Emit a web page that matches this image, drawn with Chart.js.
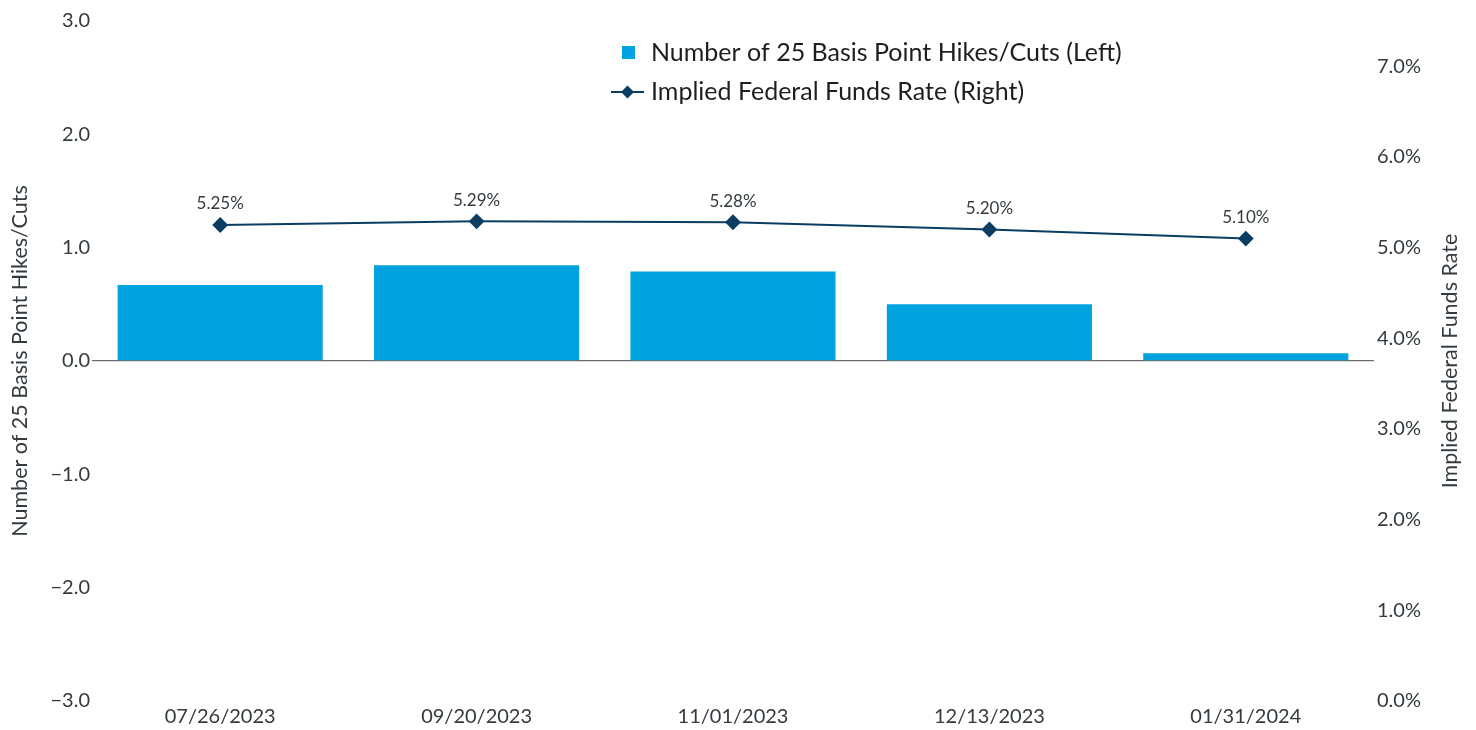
<!DOCTYPE html>
<html><head><meta charset="utf-8">
<script src="https://cdn.jsdelivr.net/npm/chart.js@4.4.1/dist/chart.umd.min.js"></script>
<style>html,body{margin:0;padding:0;background:#fff}#wrap{width:1476px;height:730px;position:relative}</style>
</head><body><div id="wrap"><canvas id="c" width="1476" height="730"></canvas></div>
<script>
const categories = ['07/26/2023','09/20/2023','11/01/2023','12/13/2023','01/31/2024'];
const hikesCuts = [0.67, 0.845, 0.79, 0.50, 0.068];
const fedFundsRate = [5.25, 5.29, 5.28, 5.20, 5.10];
const leftTicks = [-3, -2, -1, 0, 1, 2, 3];
const rightTicks = [0, 1, 2, 3, 4, 5, 6, 7];
const barLabel = 'Number of 25 Basis Point Hikes/Cuts (Left)';
const lineLabel = 'Implied Federal Funds Rate (Right)';
const leftTitle = 'Number of 25 Basis Point Hikes/Cuts';
const rightTitle = 'Implied Federal Funds Rate';

const FONT = 'Lato, "Noto Sans", sans-serif';
const BAR_COLOR = '#00A2DF';
const LINE_COLOR = '#0B3D63';
const TEXT = '#333a40';

const labelPlugin = {
  id: 'pointLabels',
  afterDatasetsDraw(chart) {
    const ctx = chart.ctx;
    const meta = chart.getDatasetMeta(0);
    ctx.save();
    ctx.font = '17px ' + FONT;
    ctx.fillStyle = TEXT;
    ctx.textAlign = 'center';
    ctx.textBaseline = 'middle';
    meta.data.forEach((pt, i) => {
      ctx.fillText(fedFundsRate[i].toFixed(2) + '%', pt.x, pt.y - 21);
    });
    ctx.restore();
  }
};

const rightTitlePlugin = {
  id: 'rightTitle',
  afterDraw(chart) {
    const ctx = chart.ctx;
    const s = chart.scales.yRight;
    ctx.save();
    ctx.translate(1450, (s.top + s.bottom) / 2);
    ctx.rotate(-Math.PI / 2);
    ctx.font = '21.5px ' + FONT;
    ctx.fillStyle = TEXT;
    ctx.textAlign = 'center';
    ctx.textBaseline = 'middle';
    ctx.fillText(rightTitle, 0, 0);
    ctx.restore();
  }
};

const legendPlugin = {
  id: 'customLegend',
  afterDraw(chart) {
    const ctx = chart.ctx;
    ctx.save();
    ctx.font = '25px ' + FONT;
    ctx.textBaseline = 'middle';
    ctx.textAlign = 'left';
    ctx.fillStyle = BAR_COLOR;
    ctx.fillRect(622, 46, 13, 13);
    ctx.fillStyle = '#1e1e1e';
    ctx.fillText(barLabel, 651, 53);
    ctx.strokeStyle = LINE_COLOR;
    ctx.lineWidth = 2;
    ctx.beginPath(); ctx.moveTo(611, 92); ctx.lineTo(644, 92); ctx.stroke();
    ctx.fillStyle = LINE_COLOR;
    ctx.beginPath();
    ctx.moveTo(627.5, 85.5); ctx.lineTo(634, 92); ctx.lineTo(627.5, 98.5); ctx.lineTo(621, 92); ctx.closePath();
    ctx.fill();
    ctx.fillStyle = '#1e1e1e';
    ctx.fillText(lineLabel, 651, 92);
    ctx.restore();
  }
};

new Chart(document.getElementById('c'), {
  data: {
    labels: categories,
    datasets: [
      {
        type: 'line', label: lineLabel, data: fedFundsRate, yAxisID: 'yRight',
        borderColor: LINE_COLOR, backgroundColor: LINE_COLOR, borderWidth: 2,
        pointStyle: 'rectRot', pointRadius: 6.5, pointHoverRadius: 6.5, tension: 0
      },
      {
        type: 'bar', label: barLabel, data: hikesCuts, yAxisID: 'yLeft',
        backgroundColor: BAR_COLOR, borderWidth: 0,
        barPercentage: 0.8, categoryPercentage: 1.0
      }
    ]
  },
  options: {
    responsive: false,
    animation: false,
    layout: { padding: { top: 21, left: 0, right: 0, bottom: 0 } },
    plugins: { legend: { display: false }, tooltip: { enabled: false } },
    scales: {
      x: {
        grid: { display: false, drawTicks: false },
        border: { display: false },
        ticks: { color: TEXT, font: { family: FONT, size: 20 }, padding: 4, maxRotation: 0 },
        afterFit(s) { s.height = 29; }
      },
      yLeft: {
        position: 'left', min: -3, max: 3,
        border: { display: false },
        grid: {
          drawTicks: false,
          color: ctx => (ctx.tick && ctx.tick.value === 0 ? '#6b6b6b' : 'rgba(0,0,0,0)'),
          lineWidth: 1.3
        },
        afterBuildTicks(s) { s.ticks = leftTicks.map(v => ({ value: v })); },
        ticks: {
          color: TEXT, font: { family: FONT, size: 20 }, padding: 2,
          callback: v => (v < 0 ? '\u2212' + Math.abs(v).toFixed(1) : v.toFixed(1))
        },
        title: { display: true, text: leftTitle, color: TEXT, font: { family: FONT, size: 21.5 }, padding: { top: 7, bottom: 0 } },
        afterFit(s) { s.width = 92; }
      },
      yRight: {
        position: 'right', min: 0, max: 7.5,
        border: { display: false },
        grid: { display: false, drawTicks: false },
        afterBuildTicks(s) { s.ticks = rightTicks.map(v => ({ value: v })); },
        ticks: {
          color: TEXT, font: { family: FONT, size: 20 }, padding: 3,
          callback: v => v.toFixed(1) + '%'
        },
        title: { display: false, text: rightTitle },
        afterFit(s) { s.width = 102; }
      }
    }
  },
  plugins: [labelPlugin, legendPlugin, rightTitlePlugin]
});
</script>
</body></html>
